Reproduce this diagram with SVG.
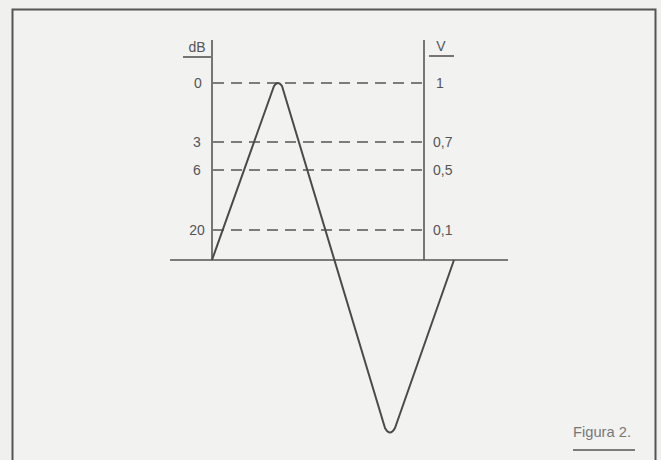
<svg xmlns="http://www.w3.org/2000/svg" width="661" height="460" viewBox="0 0 661 460">
<style>
.ln{stroke:#555;stroke-width:1.6;fill:none}
.dash{stroke:#555;stroke-width:1.5;stroke-dasharray:11 7;fill:none}
.wave{stroke:#4a4a4a;stroke-width:2;fill:none;stroke-linejoin:round}
text{font-family:"Liberation Sans",Arial,sans-serif;font-size:14px;fill:#555}
.fig{font-size:15px;fill:#777}
</style>
<rect x="0" y="0" width="661" height="460" fill="#f0f0ef"/>
<rect id="frame" x="12.5" y="9.5" width="643" height="470" fill="#f2f2f1" stroke="#555" stroke-width="2"/>
<g id="axes">
<line class="ln" x1="212" y1="40" x2="212" y2="260"/>
<line class="ln" x1="424" y1="40" x2="424" y2="260"/>
<line class="ln" x1="170" y1="260" x2="508" y2="260"/>
</g>
<g id="dB-label">
<text x="197" y="52" text-anchor="middle">dB</text>
<line class="ln" x1="183" y1="57" x2="211" y2="57"/>
</g>
<g id="V-label">
<text x="441" y="51" text-anchor="middle">V</text>
<line class="ln" x1="429" y1="56" x2="454" y2="56"/>
</g>
<g id="levels">
<line class="dash" x1="213" y1="83" x2="424" y2="83"/>
<line class="dash" x1="213" y1="142" x2="424" y2="142"/>
<line class="dash" x1="213" y1="170" x2="424" y2="170"/>
<line class="dash" x1="213" y1="230" x2="424" y2="230"/>
</g>
<g id="left-ticks">
<text x="198" y="88" text-anchor="middle">0</text>
<text x="197" y="147" text-anchor="middle">3</text>
<text x="197" y="175" text-anchor="middle">6</text>
<text x="197" y="235" text-anchor="middle">20</text>
</g>
<g id="right-ticks">
<text x="436" y="88">1</text>
<text x="433" y="147">0,7</text>
<text x="433" y="175">0,5</text>
<text x="433" y="235">0,1</text>
</g>
<g id="waveform">
<path class="wave" d="M212,260 L274,86 Q278,80 282,86 L385,428 Q390,437 395,428 L454,260"/>
</g>
<g id="caption">
<text class="fig" x="573" y="437" textLength="58" lengthAdjust="spacingAndGlyphs">Figura 2.</text>
<line class="ln" x1="573" y1="450" x2="635" y2="450"/>
</g>
</svg>
